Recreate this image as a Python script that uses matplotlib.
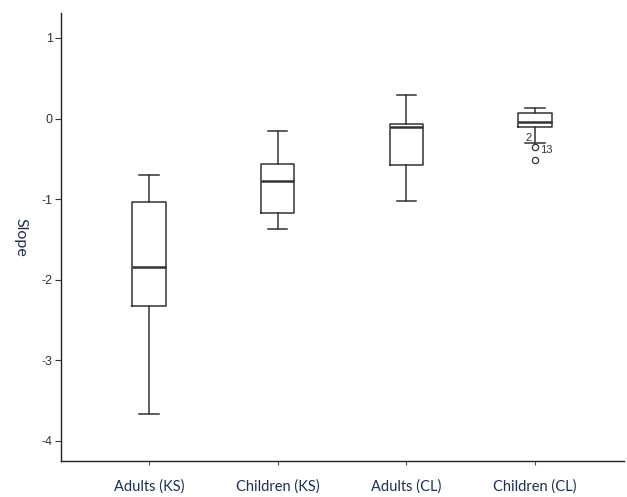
import matplotlib
matplotlib.use('Agg')
import matplotlib.pyplot as plt

# Data
groups = ['Adults (KS)', 'Children (KS)', 'Adults (CL)', 'Children (CL)']
whisker_low = [-3.67, -1.37, -1.02, -0.30]
q1 = [-2.33, -1.17, -0.58, -0.10]
medians = [-1.84, -0.78, -0.10, -0.04]
q3 = [-1.03, -0.56, -0.07, 0.065]
whisker_high = [-0.70, -0.16, 0.29, 0.13]
outliers = [[], [], [], [-0.35, -0.52]]
outlier_labels = [[], [], [], [('2', '13'), ()]]

stats = []
for i, name in enumerate(groups):
    stats.append({'label': name, 'whislo': whisker_low[i], 'q1': q1[i],
                  'med': medians[i], 'q3': q3[i], 'whishi': whisker_high[i],
                  'fliers': outliers[i]})

fig = plt.figure(figsize=(6.27, 4.97), dpi=100)
ax = fig.add_axes([0.0973, 0.0724, 0.8977, 0.9014])

line_col = '#333333'
ax.bxp(stats, positions=[1, 2, 3, 4], widths=0.26,
       boxprops=dict(color=line_col, linewidth=1.1),
       whiskerprops=dict(color=line_col, linewidth=1.1),
       capprops=dict(color=line_col, linewidth=1.1),
       capwidths=0.15,
       medianprops=dict(color=line_col, linewidth=1.8),
       flierprops=dict(marker='o', markersize=4.5, markerfacecolor='none',
                       markeredgecolor=line_col, markeredgewidth=0.9))

# outlier case numbers
for i, vals in enumerate(outliers):
    for v, labs in zip(vals, outlier_labels[i]):
        if len(labs) == 2:
            ax.annotate(labs[0], (i + 1, v), xytext=(-4.5, 6.5), textcoords='offset points',
                        fontsize=8, color='#333333', ha='center', va='center',
                        family='Liberation Sans')
            ax.annotate(labs[1], (i + 1, v), xytext=(8, -2.5), textcoords='offset points',
                        fontsize=8, color='#333333', ha='center', va='center',
                        family='Liberation Sans')

ax.set_xlim(0.316, 4.69)
ax.set_ylim(-4.25, 1.31)
ax.set_yticks([1, 0, -1, -2, -3, -4])
ax.set_yticklabels(['1', '0', '-1', '-2', '-3', '-4'], family='Liberation Sans',
                   fontsize=9, color='#333333')
ax.set_xticks([1, 2, 3, 4])
ax.set_xticklabels(groups, family='Lato', fontsize=10.5, color='#1f2f4f')

ax.spines['top'].set_visible(False)
ax.spines['right'].set_visible(False)
for s in ['left', 'bottom']:
    ax.spines[s].set_color('#222222')
    ax.spines[s].set_linewidth(1.0)
ax.tick_params(axis='y', direction='out', length=4, width=0.8, color='#333333', pad=2)
ax.tick_params(axis='x', direction='out', length=3, width=0.8, color='#555555', pad=10)

ax.set_ylabel('Slope', rotation=-90, fontsize=11.5, color='#1f2f4f', family='Lato')
ax.yaxis.set_label_coords(-0.085, 0.5)

fig.savefig('out.png', dpi=100)
